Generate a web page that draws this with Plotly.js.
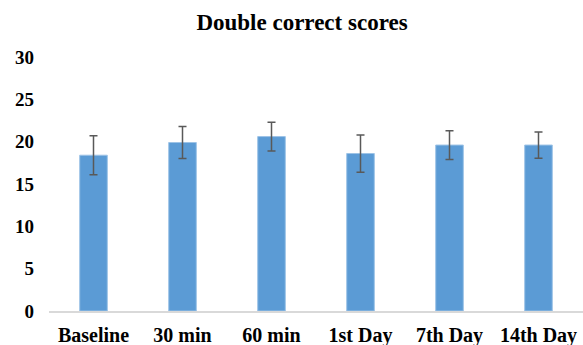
<!DOCTYPE html>
<html>
<head>
<meta charset="utf-8">
<script src="https://cdn.plot.ly/plotly-3.0.1.min.js"></script>
<style>html,body{margin:0;padding:0;background:#fff;}#chart{width:583px;height:345px;}</style>
</head>
<body>
<div id="chart"></div>
<script>
const categories = ["Baseline", "30 min", "60 min", "1st Day", "7th Day", "14th Day"];
const means = [18.4, 19.9, 20.6, 18.6, 19.6, 19.6];
const errors = [2.3, 1.9, 1.7, 2.2, 1.7, 1.55];
const yTicks = [0, 5, 10, 15, 20, 25, 30];

const serif = "'Liberation Serif', 'Times New Roman', serif";

Plotly.newPlot('chart', [{
  type: 'bar',
  x: categories,
  y: means,
  width: 0.31,
  marker: {color: '#5B9BD5', line: {color: '#9DC3E6', width: 1}},
  error_y: {type: 'data', array: errors, visible: true, color: '#595959', thickness: 1.5, width: 4},
  hoverinfo: 'skip'
}], {
  width: 583, height: 345,
  margin: {l: 49, r: 0, t: 57, b: 34},
  paper_bgcolor: '#fff', plot_bgcolor: '#fff',
  showlegend: false,
  title: {text: 'Double correct scores', x: 0.518, xanchor: 'center', y: 0.935, yanchor: 'middle',
    font: {family: serif, size: 23, color: '#000', weight: 'bold'}},
  xaxis: {
    type: 'category', showgrid: false, zeroline: false,
    showline: true, linecolor: '#D9D9D9', linewidth: 1.5,
    ticks: '', ticklabelstandoff: 5,
    tickfont: {family: serif, size: 20, color: '#000', weight: 'bold'}
  },
  yaxis: {
    range: [0, 30], tickvals: yTicks, showgrid: false, zeroline: false, showline: false,
    ticks: '', ticklabelstandoff: 14,
    tickfont: {family: serif, size: 19, color: '#000', weight: 'bold'}
  }
}, {displayModeBar: false, staticPlot: true});
</script>
</body>
</html>
